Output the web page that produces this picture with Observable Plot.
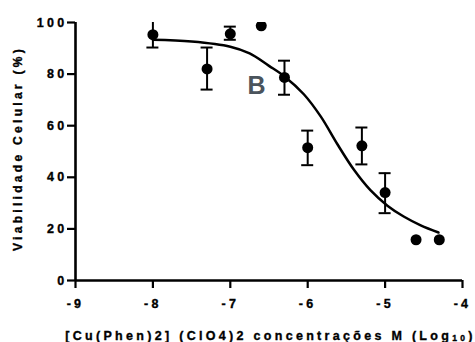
<!DOCTYPE html>
<html>
<head>
<meta charset="utf-8">
<script src="https://cdn.jsdelivr.net/npm/d3@7"></script>
<script src="https://cdn.jsdelivr.net/npm/@observablehq/plot@0.6"></script>
<style>
  html, body { margin: 0; padding: 0; background: #fff; }
  .chart text { letter-spacing: 3.3px; font-weight: bold; font-family: "Liberation Sans", Arial, sans-serif; }
  .chart text.heavy { stroke: #000; stroke-width: 0.35px; paint-order: stroke; }
</style>
</head>
<body>
<div id="chart"></div>
<script>
// Measured points (log10 molar concentration vs. cell viability %)
const logConc   = [-8, -7.3, -7, -6.6, -6.3, -6, -5.3, -5, -4.6, -4.3];
const viability = [95.3, 82, 95.6, 98.7, 78.7, 51.5, 52.2, 34.1, 15.8, 15.8];
const errLow    = [90.3, 74, 93.3, null, 72, 44.7, 45, 26.1, null, null];
const errHigh   = [100.8, 90.3, 98.4, null, 85.2, 58.1, 59.3, 41.6, null, null];

// Fitted curve
const curveX = [-8, -7.5, -7, -6.75, -6.5, -6.3, -6.05, -5.83, -5.62, -5.4, -5.19, -4.97, -4.76, -4.54, -4.31];
const curveY = [93.3, 92.6, 90.6, 88, 83.2, 79.1, 72.2, 63.5, 53, 42.8, 35, 29, 24.8, 21.4, 18.6];

const xTicks = [-9, -8, -7, -6, -5, -4];
const yTicks = [0, 20, 40, 60, 80, 100];

const yLabel = "Viabilidade Celular (%)";
const xLabel = "[Cu(Phen)2] (ClO4)2 concentrações M (Log10)";
const panelLetter = "B";

const points = logConc.map((x, i) => ({x, y: viability[i], lo: errLow[i], hi: errHigh[i]}));
const bars = points.filter(d => d.lo != null);
const curve = curveX.map((x, i) => ({x, y: curveY[i]}));

const chart = Plot.plot({
  width: 475,
  height: 342,
  marginLeft: 75,
  marginRight: 13,
  marginTop: 22,
  marginBottom: 62,
  className: "chart",
  style: {fontFamily: "'Liberation Sans', Arial, sans-serif", fontWeight: "bold", fontSize: "12.5px", color: "#000", background: "#fff"},
  x: {domain: [-9, -4]},
  y: {domain: [0, 100]},
  marks: [
    Plot.axisX({ticks: xTicks, tickSize: 8, tickPadding: 11, strokeWidth: 2.2, label: null, fontSize: 12.5, fontWeight: "bold", tickFormat: d => String(d).replace("−", "-")}),
    Plot.axisY({ticks: yTicks, tickSize: 8, tickPadding: 0, strokeWidth: 2.2, label: null, fontSize: 12.5, fontWeight: "bold"}),
    Plot.ruleY([0], {strokeWidth: 2.6}),
    Plot.ruleX([-9], {strokeWidth: 2.6}),
    Plot.line(curve, {x: "x", y: "y", curve: "catmull-rom", strokeWidth: 2.5, stroke: "#000"}),
    Plot.ruleX(bars, {x: "x", y1: "lo", y2: "hi", strokeWidth: 2, stroke: "#000", clip: true}),
    Plot.ruleY(bars, {y: "lo", x1: "x", x2: "x", insetLeft: -6, insetRight: -6, strokeWidth: 2, stroke: "#000", clip: true}),
    Plot.ruleY(bars, {y: "hi", x1: "x", x2: "x", insetLeft: -6, insetRight: -6, strokeWidth: 2, stroke: "#000", clip: true}),
    Plot.dot(points, {x: "x", y: "y", r: 5.5, fill: "#000", stroke: null, clip: true}),
    Plot.text([panelLetter], {frameAnchor: "top-left", dx: 181, dy: 71, text: d => d, textAnchor: "middle", lineAnchor: "bottom", fontSize: 25, fontWeight: "bold", fill: "#4b545c"}),
    Plot.text([yLabel], {frameAnchor: "left", dx: -53.5, dy: -3, rotate: -90, text: d => d, textAnchor: "middle", lineAnchor: "bottom", fontSize: 12, fontWeight: "bold", fill: "#000"}),
    Plot.text([xLabel], {frameAnchor: "bottom", dx: 1.5, dy: 59, text: d => d, textAnchor: "middle", lineAnchor: "bottom", fontSize: 12.5, fontWeight: "bold", fill: "#000"})
  ]
});

document.getElementById("chart").appendChild(chart);

// Styling touches: letter B without spacing, subscript 10 in the x label, heavier black text
const svg = d3.select(chart);
svg.selectAll("text").each(function() {
  if (this.textContent === panelLetter) d3.select(this).style("letter-spacing", "0px");
  else d3.select(this).classed("heavy", true);
});
svg.selectAll("g[aria-label='tick label'] text, g[aria-label='y-axis tick label'] text, g[aria-label='x-axis tick label'] text").classed("heavy", true);
svg.selectAll("text").filter(function() { return this.textContent === xLabel; }).each(function() {
  const t = d3.select(this);
  t.text(null);
  t.append("tspan").text("[Cu(Phen)2] (ClO4)2 concentrações M (Log");
  t.append("tspan").attr("font-size", "8.5px").attr("dy", "1").text("10");
  t.append("tspan").attr("dy", "-1").text(")");
});
</script>
</body>
</html>
